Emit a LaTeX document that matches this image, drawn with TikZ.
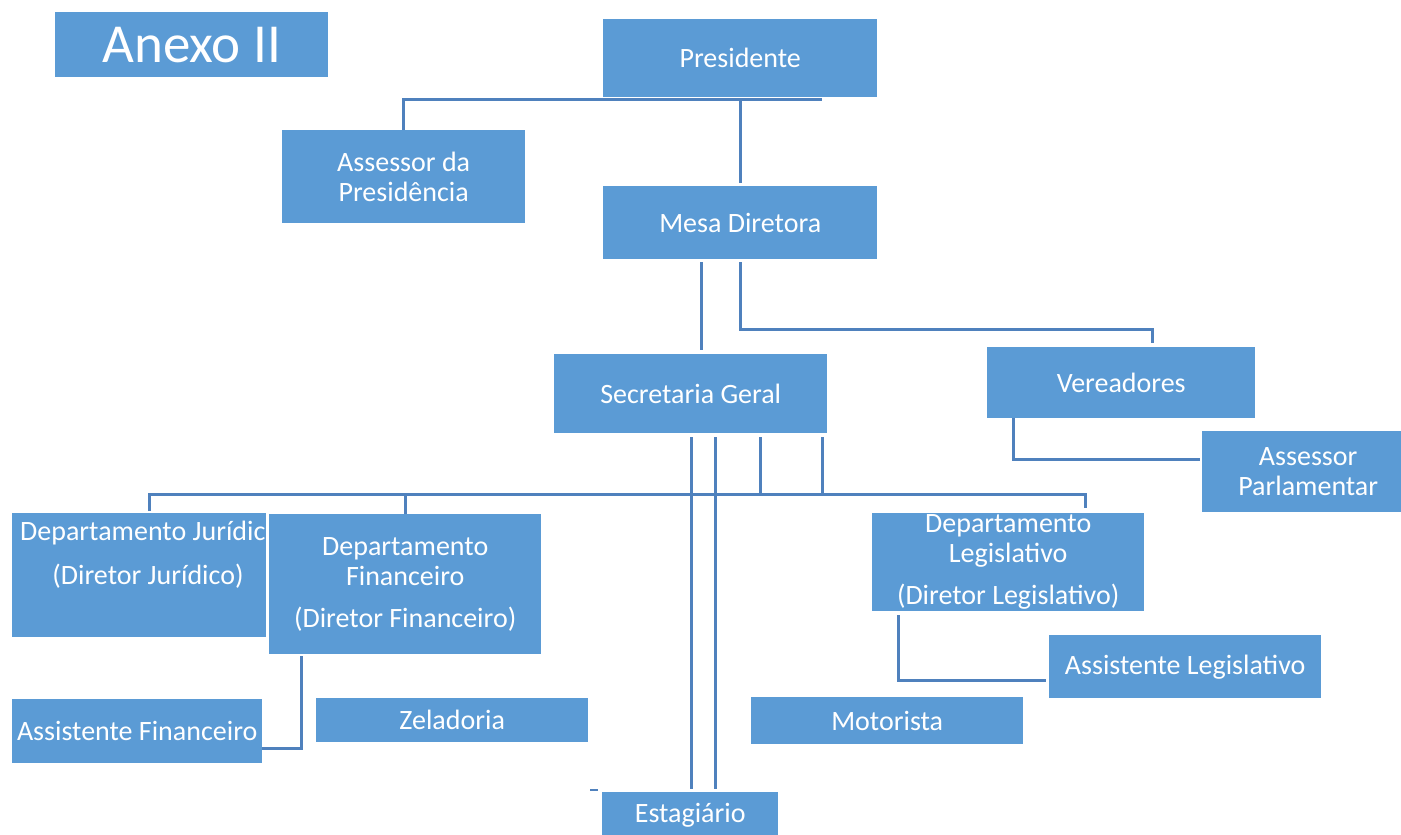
\documentclass[tikz,border=0pt]{standalone}
\usepackage{fontspec}
\setmainfont{Carlito}
\usetikzlibrary{calc}
\definecolor{boxblue}{RGB}{91,155,213}
\definecolor{lineblue}{RGB}{79,129,189}
\begin{document}
\begin{tikzpicture}[x=1pt,y=-1pt,
  box/.style={fill=boxblue, draw=none, text=white, font=\fontsize{28}{30}\selectfont, align=center, inner sep=0pt, anchor=north west},
  txt/.style={text=white, font=\fontsize{28}{30}\selectfont, inner sep=0pt},
  conn/.style={draw=lineblue, line width=3pt}]
\useasboundingbox (0,0) rectangle (1401,835);

\node[box, minimum width=273, minimum height=65, font=\fontsize{55}{60}\selectfont] (anexo) at (55,12) {Anexo II};
\node[box, minimum width=274, minimum height=78] (pres) at (603,19) {Presidente};
\node[box, minimum width=243, minimum height=93] (asp) at (282,130) {Assessor da\\Presidência};
\node[box, minimum width=274, minimum height=73] (mesa) at (603,186) {Mesa Diretora};
\node[box, minimum width=273, minimum height=79] (sec) at (554,354) {Secretaria Geral};
\node[box, minimum width=268, minimum height=71] (ver) at (987,347) {Vereadores};
\node[box, minimum width=212, minimum height=81] (apar) at (1202,431) {Assessor\\Parlamentar};
\node[box, minimum width=254, minimum height=124] (jur) at (12,513) {};
\node[txt, anchor=west] (jurA) at (20,533) {Departamento Jurídico};
\node[txt] (jurB) at (148,576) {(Diretor Jurídico)};
\node[box, minimum width=272, minimum height=140] (fin) at (269,514) {Departamento\\Financeiro\\[12pt](Diretor Financeiro)};
\node[box, minimum width=272, minimum height=98] (leg) at (872,513) {Departamento\\Legislativo\\[12pt](Diretor Legislativo)};
\node[box, minimum width=272, minimum height=63] (aleg) at (1049,635) {Assistente Legislativo};
\node[box, minimum width=250, minimum height=64] (afin) at (12,699) {Assistente Financeiro};
\node[box, minimum width=272, minimum height=44] (zel) at (316,698) {Zeladoria};
\node[box, minimum width=272, minimum height=47] (mot) at (751,697) {Motorista};
\node[box, minimum width=176, minimum height=46] (est) at (602,792) {Estagiário};

% Presidente connectors
\coordinate (presR) at (822,99);
\draw[conn] (asp.north) -- (asp.north |- presR) -- (presR);
\draw[conn] (mesa.north |- presR) -- ($(mesa.north)+(0,-3)$);

% Mesa connectors
\draw[conn] ($(mesa.south)+(-39,3)$) -- ($(sec.north)+(10.5,-4)$);
\draw[conn] ($(mesa.south)+(0,3)$) |- ($(ver.north)+(31,-18)$) -- ($(ver.north)+(31,-4)$);

% Vereadores to Assessor Parlamentar
\draw[conn] ($(ver.south west)+(26,0)$) |- ($(apar.west)+(-2,-12.5)$);

% Secretaria connectors
\draw[conn] ($(sec.south west)+(137,4)$) -- ($(est.north west)+(89,-3)$);
\draw[conn] ($(sec.south west)+(161,4)$) -- ($(est.north west)+(113,-3)$);
\draw[conn] ($(sec.south west)+(206,4)$) -- ($(sec.south west)+(206,60)$);
\draw[conn] ($(sec.south west)+(268,4)$) -- ($(sec.south west)+(268,60)$);
\draw[conn] ($(jur.north)+(10,-2)$) -- ++(0,-17) -| ($(leg.north)+(77,-5)$);
\draw[conn] (fin.north) -- ++(0,-20);

% Financeiro to Assistente Financeiro
\draw[conn] ($(fin.south west)+(32,2)$) |- ($(afin.east)+(0,17)$);

% Legislativo to Assistente Legislativo
\draw[conn] ($(leg.south west)+(26,4)$) |- ($(aleg.west)+(-3,14)$);

% small stub
\coordinate (stub) at (590,790);
\draw[draw=lineblue, line width=2.5pt] (stub) -- ++(8,0);
\end{tikzpicture}
\end{document}
